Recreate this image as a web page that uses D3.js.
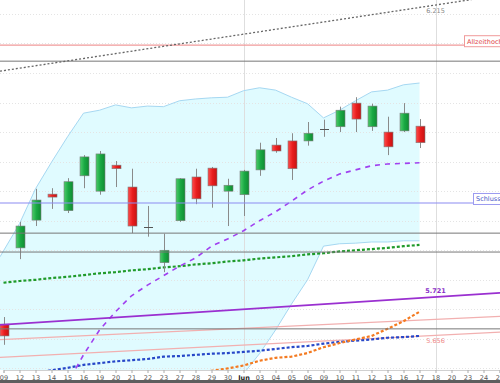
<!DOCTYPE html>
<html><head><meta charset="utf-8">
<script src="https://cdn.jsdelivr.net/npm/d3@7"></script>
<style>html,body{margin:0;padding:0;background:#fff;overflow:hidden}</style>
</head><body><svg id="c" width="500" height="383"></svg>
<script>
// ---------- data ----------
const dates = ["05-09","05-12","05-13","05-14","05-15","05-16","05-19","05-20","05-21","05-22","05-23","05-27","05-28","05-29","05-30","06-02","06-03","06-04","06-05","06-06","06-09","06-10","06-11","06-12","06-13","06-16","06-17","06-18","06-20","06-23","06-24","06-25"];
const tickLabels = ["09","12","13","14","15","16","19","20","21","22","23","27","28","29","30","Jun","03","04","05","06","09","10","11","12","13","16","17","18","20","23","24","25"];

const open  = [5.675,5.804,5.851,5.895,5.867,5.926,5.900,5.944,5.907,5.839,5.779,5.850,5.924,5.939,5.900,5.894,5.936,5.978,5.985,5.985,6.005,6.009,6.049,6.009,6.000,6.002,6.010];
const high  = [5.687,5.848,5.904,5.905,5.922,5.961,5.968,5.951,5.938,5.875,5.828,5.922,5.938,5.941,5.921,5.936,5.982,5.990,5.998,6.017,6.021,6.043,6.059,6.048,6.026,6.049,6.022];
const low   = [5.640,5.785,5.841,5.870,5.863,5.905,5.894,5.907,5.829,5.823,5.763,5.848,5.878,5.872,5.841,5.858,5.926,5.965,5.919,5.977,5.992,6.000,6.000,6.002,5.961,6.000,5.973];
const close = [5.655,5.841,5.885,5.890,5.916,5.958,5.963,5.938,5.841,5.838,5.800,5.921,5.887,5.909,5.910,5.934,5.970,5.968,5.938,5.998,6.004,6.037,6.022,6.044,5.975,6.032,5.982];

const bbUpper  = [5.799,5.845,5.904,5.949,5.992,6.032,6.037,6.046,6.041,6.044,6.043,6.053,6.056,6.058,6.059,6.070,6.075,6.071,6.059,6.048,6.024,6.037,6.053,6.068,6.071,6.080,6.083];
const bbMiddle = [5.378,5.428,5.479,5.530,5.575,5.623,5.665,5.696,5.723,5.741,5.757,5.773,5.787,5.807,5.819,5.833,5.850,5.865,5.883,5.902,5.917,5.929,5.936,5.943,5.946,5.947,5.948];
const bbLower  = [4.956,5.012,5.054,5.110,5.159,5.213,5.293,5.345,5.405,5.438,5.471,5.494,5.518,5.557,5.579,5.591,5.625,5.665,5.709,5.750,5.807,5.811,5.812,5.814,5.814,5.816,5.816];

const maGreen  = [5.745,5.748,5.750,5.753,5.755,5.758,5.761,5.763,5.766,5.768,5.771,5.773,5.776,5.778,5.781,5.783,5.786,5.788,5.790,5.793,5.795,5.798,5.800,5.802,5.804,5.807,5.809];
const maBlue   = [5.584,5.587,5.592,5.597,5.601,5.606,5.609,5.612,5.614,5.616,5.620,5.621,5.623,5.625,5.626,5.628,5.630,5.633,5.636,5.638,5.642,5.645,5.647,5.649,5.652,5.653,5.655];
const maOrange = [5.540,5.545,5.550,5.555,5.560,5.564,5.568,5.572,5.576,5.580,5.584,5.587,5.591,5.596,5.600,5.605,5.613,5.618,5.620,5.626,5.636,5.643,5.649,5.655,5.667,5.680,5.696];

// trend lines: two anchor points each (date, price)
const trendGrayDotted = [["05-09",6.104],["06-18",6.215]];
const trendPurple     = [["05-09",5.674],["06-18",5.721]];
const trendPinkUpper  = [["05-09",5.649],["06-18",5.683]];
const trendPinkLower  = [["05-09",5.619],["06-18",5.656]];

const grayLevels = [6.120, 5.829, 5.797, 5.667];
const athLevel = 6.147;
const closeLevel = 5.880;
const gridPrices = [6.20,6.15,6.10,6.05,6.00,5.95,5.90,5.85,5.80,5.75,5.70,5.65,5.60];
const monthStart = "06-02";
const today = "06-18";
const athLabel = "Allzeithoch vom 11.06.";
const closeLabel = "Schlusskurs Vortag";

// ---------- chart ----------
const W = 500, plotB = 370;
const svg = d3.select("#c");
const x = d3.scalePoint().domain(dates).range([3.5, 3.5 + 16 * (dates.length - 1)]);
const y = d3.scaleLinear().domain([5.594, 6.2235]).range([372, 0]);
const cd = dates.slice(0, open.length);

const defs = svg.append("defs");
defs.append("clipPath").attr("id","clip").append("rect").attr("x",0).attr("y",0).attr("width",W).attr("height",plotB);
const gG = defs.append("linearGradient").attr("id","gGreen").attr("x1","0").attr("x2","1").attr("y1","0").attr("y2","0");
gG.append("stop").attr("offset","0").attr("stop-color","#4ccc6a");
gG.append("stop").attr("offset","0.5").attr("stop-color","#1aa843");
gG.append("stop").attr("offset","1").attr("stop-color","#0f8c32");
const gR = defs.append("linearGradient").attr("id","gRed").attr("x1","0").attr("x2","1").attr("y1","0").attr("y2","0");
gR.append("stop").attr("offset","0").attr("stop-color","#ff4d4d");
gR.append("stop").attr("offset","0.5").attr("stop-color","#e81d1d");
gR.append("stop").attr("offset","1").attr("stop-color","#c81212");

svg.append("rect").attr("width",W).attr("height",383).attr("fill","#fff");
const g = svg.append("g").attr("clip-path","url(#clip)");

// pixel points for band, extended to the left edge along the first segment
function bandPts(arr){
  const pts = arr.map((d,i)=>[x(cd[i]), y(d)]);
  const s = (pts[1][1]-pts[0][1])/(pts[1][0]-pts[0][0]);
  pts.unshift([0, pts[0][1] - s*pts[0][0]]);
  return pts;
}
const up = bandPts(bbUpper), lo = bandPts(bbLower);

// Bollinger band fill
const area = d3.area().x(d=>d[0]).y0((d,i)=>lo[i][1]).y1(d=>d[1]);
g.append("path").datum(up).attr("d", area).attr("fill","#e0fbff");

// grid
g.selectAll(".grid").data(gridPrices).join("line")
  .attr("x1",0).attr("x2",W).attr("y1",d=>Math.round(y(d))+0.5).attr("y2",d=>Math.round(y(d))+0.5)
  .attr("stroke","#e4e4e4").attr("stroke-width",1).attr("stroke-dasharray","1,2");

// vertical lines
[monthStart, today].forEach(d=>{
  g.append("line").attr("x1",Math.round(x(d))+0.5).attr("x2",Math.round(x(d))+0.5).attr("y1",0).attr("y2",plotB)
   .attr("stroke","#dedede").attr("stroke-width",1);
});

// band lines
const line = d3.line();
g.append("path").attr("d",line(up)).attr("fill","none").attr("stroke","#a6d8f2").attr("stroke-width",1);
g.append("path").attr("d",line(lo)).attr("fill","none").attr("stroke","#a6d8f2").attr("stroke-width",1);
const lineFrom = arr => d3.line().x((d,i)=>x(cd[i])).y(d=>y(d))(arr);

// trend lines extended across the plot
function trend(anchors){
  const x1 = x(anchors[0][0]), y1 = y(anchors[0][1]), x2 = x(anchors[1][0]), y2 = y(anchors[1][1]);
  const s = (y2-y1)/(x2-x1);
  return {xa:0, ya:y1 + s*(0-x1), xb:W, yb:y1 + s*(W-x1), at:(xx)=>y1 + s*(xx-x1)};
}
function drawTrend(anchors, color, width, dash){
  const t = trend(anchors);
  const l = g.append("line").attr("x1",t.xa).attr("y1",t.ya).attr("x2",t.xb).attr("y2",t.yb)
    .attr("stroke",color).attr("stroke-width",width);
  if (dash) l.attr("stroke-dasharray",dash);
  return t;
}
const tPU = drawTrend(trendPinkUpper, "#f2b0b0", 1.2);
const tPL = drawTrend(trendPinkLower, "#f2b0b0", 1.2);

// moving averages
g.append("path").attr("d",lineFrom(maGreen)).attr("fill","none").attr("stroke","#1f9a2a").attr("stroke-width",2.2).attr("stroke-dasharray","3,2");
g.append("path").attr("d",lineFrom(maBlue)).attr("fill","none").attr("stroke","#2747c8").attr("stroke-width",2.2).attr("stroke-dasharray","3,2");
g.append("path").attr("d",lineFrom(maOrange)).attr("fill","none").attr("stroke","#f47a20").attr("stroke-width",2.2).attr("stroke-dasharray","3,2");
g.append("path").attr("d",lineFrom(bbMiddle)).attr("fill","none").attr("stroke","#a040f0").attr("stroke-width",1.6).attr("stroke-dasharray","5,5");

// candles
const bw = 9;
cd.forEach((d,i)=>{
  const cx = Math.round(x(d)) + 0.5;
  g.append("line").attr("x1",cx).attr("x2",cx).attr("y1",y(high[i])).attr("y2",y(low[i])).attr("stroke","#8a8a8a").attr("stroke-width",1);
  const yo = y(open[i]), yc = y(close[i]);
  if (Math.abs(yo-yc) < 1.5){
    g.append("line").attr("x1",cx-bw/2).attr("x2",cx+bw/2).attr("y1",Math.round(yo)+0.5).attr("y2",Math.round(yo)+0.5).attr("stroke","#555").attr("stroke-width",1);
  } else {
    g.append("rect").attr("x",cx-bw/2).attr("y",Math.min(yo,yc)).attr("width",bw).attr("height",Math.abs(yo-yc))
      .attr("fill", close[i] > open[i] ? "url(#gGreen)" : "url(#gRed)")
      .attr("stroke","#7d7d7d").attr("stroke-width",0.6);
  }
});

// horizontal levels
grayLevels.forEach(p=>{
  g.append("line").attr("x1",0).attr("x2",W).attr("y1",y(p)).attr("y2",y(p)).attr("stroke","#777").attr("stroke-width",1);
});
g.append("line").attr("x1",0).attr("x2",W).attr("y1",y(athLevel)).attr("y2",y(athLevel)).attr("stroke","#f09a9a").attr("stroke-width",1.2);
g.append("line").attr("x1",0).attr("x2",W).attr("y1",y(closeLevel)).attr("y2",y(closeLevel)).attr("stroke","#8c8cf2").attr("stroke-width",1.2);

const tGD = drawTrend(trendGrayDotted, "#666", 1.3, "2,2");
const tP = drawTrend(trendPurple, "#9a30d0", 1.8);

// labels
const font = "DejaVu Sans, Verdana, sans-serif";
const tx = x(today);
svg.append("text").attr("x",tx).attr("y",tGD.at(tx)+8).attr("text-anchor","middle").attr("font-family",font).attr("font-size",6.5).attr("fill","#888").text(trendGrayDotted[1][1].toFixed(3));
svg.append("text").attr("x",tx).attr("y",tP.at(tx)-4).attr("text-anchor","middle").attr("font-family",font).attr("font-size",6.5).attr("font-weight","bold").attr("fill","#8a2fc8").text(trendPurple[1][1].toFixed(3));
svg.append("text").attr("x",tx).attr("y",tPL.at(tx)+8).attr("text-anchor","middle").attr("font-family",font).attr("font-size",6.5).attr("fill","#ef8a8a").text(trendPinkLower[1][1].toFixed(3));

svg.append("rect").attr("x",464.5).attr("y",y(athLevel)-9.5).attr("width",50).attr("height",11).attr("fill","#fff").attr("stroke","#f09a9a").attr("stroke-width",1);
svg.append("text").attr("x",467).attr("y",y(athLevel)-1.5).attr("font-family",font).attr("font-size",6.5).attr("fill","#e04848").text(athLabel);
svg.append("rect").attr("x",473.5).attr("y",y(closeLevel)-9.5).attr("width",50).attr("height",11).attr("fill","#fff").attr("stroke","#9c9cf0").attr("stroke-width",1);
svg.append("text").attr("x",476).attr("y",y(closeLevel)-1.5).attr("font-family",font).attr("font-size",6.5).attr("fill","#4b5bc8").text(closeLabel);

// x axis
svg.append("rect").attr("x",0).attr("y",plotB).attr("width",W).attr("height",13).attr("fill","#fff");
const ax = svg.append("g").attr("transform",`translate(0,${plotB})`)
  .call(d3.axisBottom(x).tickSize(3).tickPadding(2).tickFormat((d,i)=>tickLabels[i]));
ax.select(".domain").attr("stroke","#d0d0d0");
ax.selectAll(".tick line").attr("stroke","#aaa");
ax.selectAll(".tick text").attr("font-family",font).attr("font-size",6.5)
  .attr("font-weight",(d,i)=>tickLabels[i]==="Jun"?"bold":"normal")
  .attr("fill",(d,i)=>tickLabels[i]==="Jun"?"#222":"#555");
svg.append("rect").attr("x",0).attr("y",380).attr("width",W).attr("height",3).attr("fill","#5e5e5e");
</script>
</body></html>
